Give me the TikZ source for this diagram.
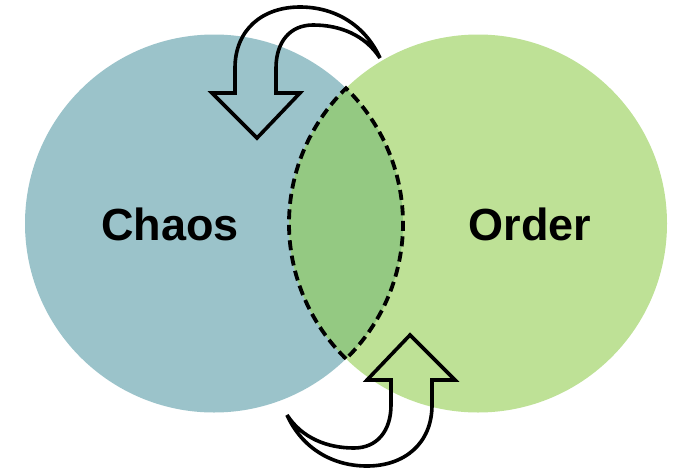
\documentclass[tikz,border=0pt]{standalone}
\usepackage{fontspec}
\setmainfont{Liberation Sans}
\definecolor{chaosc}{RGB}{155,195,202}
\definecolor{orderc}{RGB}{190,225,150}
\definecolor{lensc}{RGB}{148,201,130}
\begin{document}
\begin{tikzpicture}[x=1pt,y=-1pt,
  lbl/.style={font=\fontsize{45}{54}\selectfont\bfseries, anchor=base, inner sep=0pt},
  cvarrow/.style={draw=black, line width=3.6pt, line join=miter}]
\useasboundingbox (0,0) rectangle (679,469);
% circles
\fill[chaosc] (214,223.5) circle[radius=189];
\fill[orderc] (478,223.5) circle[radius=189];
% lens
\coordinate (lt) at (346,88.2);
\coordinate (lb) at (346,358.8);
\fill[lensc] (lb) arc[start angle=134.3, end angle=225.7, radius=189]
  arc[start angle=-45.7, end angle=45.7, radius=189] -- cycle;
\draw[line width=3.8pt, dash pattern=on 10pt off 5.5pt]
  (lb) arc[start angle=134.3, end angle=225.7, radius=189]
  arc[start angle=-45.7, end angle=45.7, radius=189] -- cycle;
% labels
\node[lbl] (chaos) at (170,240) {Chaos};
\node[lbl] (order) at (530,240) {Order};
% curved arrows
\newcommand{\curvedarrowpath}{%
  (380,58) .. controls (365,25) and (335,7) .. (300,7)
  .. controls (262,7) and (235,30) .. (235,68) -- (235,93) -- (212,93)
  -- (257,138) -- (300,93) -- (276,93) -- (276,68)
  .. controls (276,42) and (290,25) .. (313,25)
  .. controls (340,25) and (365,35) .. (380,58) -- cycle}
\draw[cvarrow] \curvedarrowpath;
\begin{scope}[rotate around={180:(333.5,236.5)}]
\draw[cvarrow] \curvedarrowpath;
\end{scope}
\end{tikzpicture}
\end{document}
